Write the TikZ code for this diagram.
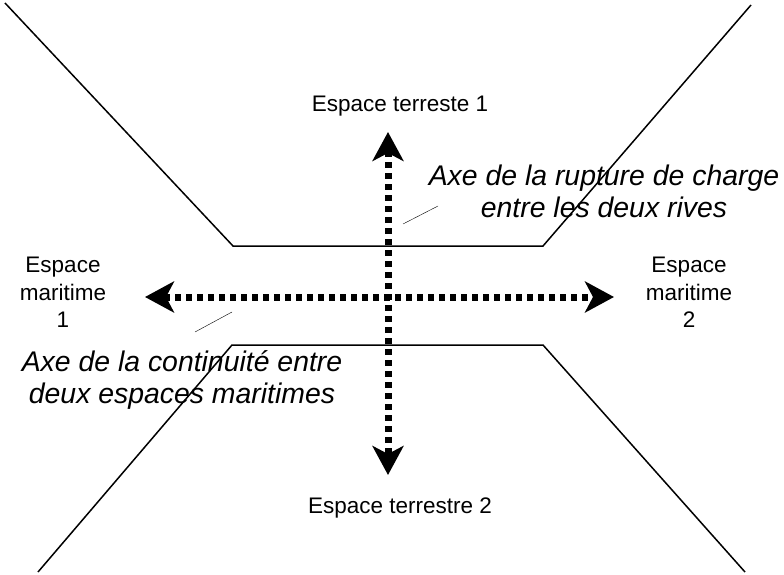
\documentclass[tikz,border=0pt]{standalone}
\usepackage{fontspec}
\setmainfont{Liberation Sans}
\usetikzlibrary{arrows.meta}
\tikzset{
  axe/.style={line width=7pt, dash pattern=on 6pt off 5pt,
    {Stealth[length=29pt,width=31pt,inset=8pt]}-{Stealth[length=29pt,width=31pt,inset=8pt]}},
  espace/.style={font=\fontsize{22.5}{27.5}\selectfont, align=center, inner sep=0pt},
  legende/.style={font=\fontsize{28.4}{32}\selectfont\itshape, align=center, inner sep=0pt},
}
\begin{document}
\begin{tikzpicture}[x=1pt,y=-1pt]
            \useasboundingbox (0,0) rectangle (784,575);
            \def\riveN{(5,3) -- (233,246) -- (543,246) -- (751,5)}
            \def\riveS{(38,572) -- (232,345) -- (543,345) -- (745,572)}
            \draw [line width=1.5pt]\riveN ;
            \draw [line width=1.5pt]\riveS ;
            % axes
            \coordinate (ouest) at (145,297);
            \coordinate (est) at (614,297);
            \coordinate (nord) at (388,132);
            \coordinate (sud) at (388,475);
            \draw [axe] (ouest) -- (est);
            \draw [axe] (nord) -- (sud);
            % etiquettes
            \node [espace, anchor=base] (terre1) at (400,112) {Espace terreste 1};
            \node [espace, anchor=base] (terre2) at (400,513) {Espace terrestre 2};
            \node [espace] (mer1) at (63,292.5) {Espace\\maritime\\1};
            \node [espace] (mer2) at (689,292.5) {Espace\\maritime\\2};
            \node [legende] (rupture) at (604,191) {Axe de la rupture de charge\\entre les deux rives};
            \node [legende] (continuite) at (182,380) {Axe de la continuité entre\\deux espaces maritimes};
            \coordinate (r1) at (403,224);
            \coordinate (r2) at (438,206);
            \coordinate (c1) at (195,332);
            \coordinate (c2) at (232,312);
            \draw (r1) -- (r2);
            \draw (c1) -- (c2);
        \end{tikzpicture}
\end{document}
